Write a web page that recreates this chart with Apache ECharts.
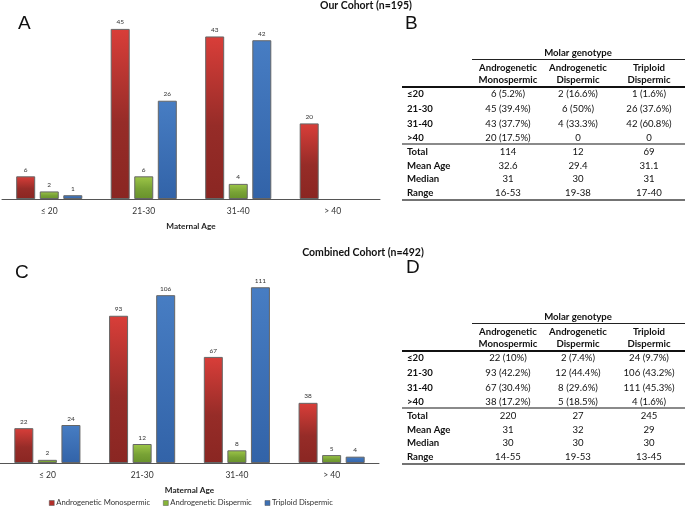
<!DOCTYPE html>
<html>
<head>
<meta charset="utf-8">
<script src="https://cdn.jsdelivr.net/npm/echarts@6/dist/echarts.min.js"></script>
<style>
  html, body { margin: 0; padding: 0; background: #fff; }
  #chart { width: 685px; height: 508px; }
</style>
</head>
<body>
<div id="chart"></div>
<script>
const ageGroups = ['≤ 20', '21-30', '31-40', '> 40'];
const genotypes = ['Androgenetic Monospermic', 'Androgenetic Dispermic', 'Triploid Dispermic'];

// Our Cohort (n=195)
const ourMono = [6, 45, 43, 20];
const ourDi = [2, 6, 4, 0];
const ourTri = [1, 26, 42, 0];

// Combined Cohort (n=492)
const combMono = [22, 93, 67, 38];
const combDi = [2, 12, 8, 5];
const combTri = [24, 106, 111, 4];

// tables B and D
const colHeads = [['Androgenetic', 'Monospermic'], ['Androgenetic', 'Dispermic'], ['Triploid', 'Dispermic']];
const rowLabels = ['≤20', '21-30', '31-40', '>40', 'Total', 'Mean Age', 'Median', 'Range'];
const ourCells = [
  ['6 (5.2%)', '2 (16.6%)', '1 (1.6%)'],
  ['45 (39.4%)', '6 (50%)', '26 (37.6%)'],
  ['43 (37.7%)', '4 (33.3%)', '42 (60.8%)'],
  ['20 (17.5%)', '0', '0'],
  ['114', '12', '69'],
  ['32.6', '29.4', '31.1'],
  ['31', '30', '31'],
  ['16-53', '19-38', '17-40']
];
const combCells = [
  ['22 (10%)', '2 (7.4%)', '24 (9.7%)'],
  ['93 (42.2%)', '12 (44.4%)', '106 (43.2%)'],
  ['67 (30.4%)', '8 (29.6%)', '111 (45.3%)'],
  ['38 (17.2%)', '5 (18.5%)', '4 (1.6%)'],
  ['220', '27', '245'],
  ['31', '32', '29'],
  ['30', '30', '30'],
  ['14-55', '19-53', '13-45']
];

const FONT = 'Lato, "Open Sans", sans-serif';
const LETTER = '"Liberation Sans", Arial, sans-serif';
const TS = 9.6; // table font size

const fills = [
  { type: 'linear', x: 0, y: 0, x2: 0, y2: 1, colorStops: [
    { offset: 0, color: '#d93e39' }, { offset: 0.55, color: '#962c28' }, { offset: 1, color: '#8a2622' }] },
  { type: 'linear', x: 0, y: 0, x2: 0, y2: 1, colorStops: [
    { offset: 0, color: '#9ec748' }, { offset: 0.55, color: '#78a235' }, { offset: 1, color: '#68922b' }] },
  { type: 'linear', x: 0, y: 0, x2: 0, y2: 1, colorStops: [
    { offset: 0, color: '#477dc3' }, { offset: 1, color: '#3263a8' }] }
];
const legendColors = ['#b32e29', '#86b438', '#3d70b3'];

function barSeries(i, values, idx) {
  return {
    name: genotypes[i],
    type: 'bar',
    xAxisIndex: idx,
    yAxisIndex: idx,
    barWidth: 19,
    barGap: '24%',
    data: values.map(v => v === 0 ? '-' : v),
    itemStyle: { color: fills[i], borderColor: '#666', borderWidth: 1 },
    label: { show: true, position: 'top', distance: 3, fontSize: 6.5, color: '#333', fontFamily: FONT }
  };
}

function xAxisFor(idx) {
  return {
    type: 'category', gridIndex: idx, data: ageGroups,
    axisLine: { lineStyle: { color: '#555', width: 1 } },
    axisTick: { show: false },
    axisLabel: { fontSize: 8.5, color: '#333', margin: 8, fontFamily: FONT },
    name: 'Maternal Age', nameLocation: 'middle', nameGap: 23,
    nameTextStyle: { fontSize: 8.2, fontWeight: 'bold', color: '#222', fontFamily: FONT }
  };
}

function txt(x, y, text, size, weight, align, family) {
  return {
    type: 'text', x: x, y: y,
    style: { text: text, fontSize: size, fontWeight: weight || 'normal', fontFamily: family || FONT,
      fill: '#111', align: align || 'center', verticalAlign: 'middle' }
  };
}
function hline(x1, x2, y, w, color) {
  return { type: 'line', shape: { x1: x1, y1: y, x2: x2, y2: y }, style: { stroke: color, lineWidth: w } };
}

// table drawn from the cell arrays
function table(top, cells) {
  const colX = [508, 578, 649];
  const rowY = [41, 56, 71, 85, 99, 113, 126, 140];
  const els = [];
  els.push(txt(578, top, 'Molar genotype', TS, 'bold'));
  els.push(hline(472, 685, top + 6.5, 1, '#222'));
  colHeads.forEach((h, c) => {
    els.push(txt(colX[c], top + 15, h[0], TS, 'bold'));
    els.push(txt(colX[c], top + 27, h[1], TS, 'bold'));
  });
  els.push(hline(402, 685, top + 34, 2, '#111'));
  els.push(hline(402, 685, top + 91, 2, '#8a8a8a'));
  els.push(hline(402, 685, top + 147, 1.5, '#444'));
  rowLabels.forEach((r, i) => {
    els.push(txt(407, top + rowY[i], r, TS, 'bold', 'left'));
    cells[i].forEach((v, c) => els.push(txt(colX[c], top + rowY[i], v, TS, 'normal')));
  });
  return els;
}

const graphics = [].concat(
  [
    txt(366, 6, 'Our Cohort (n=195)', 10.5, 'bold'),
    txt(363, 253, 'Combined Cohort (n=492)', 10.5, 'bold'),
    txt(18, 24, 'A', 19, 'normal', 'left', LETTER),
    txt(405, 24, 'B', 19, 'normal', 'left', LETTER),
    txt(15, 273, 'C', 19, 'normal', 'left', LETTER),
    txt(406, 268, 'D', 19, 'normal', 'left', LETTER)
  ],
  table(53, ourCells),
  table(317, combCells)
);

const chart = echarts.init(document.getElementById('chart'));
chart.setOption({
  animation: false,
  backgroundColor: '#fff',
  grid: [
    { left: 2, top: 10, width: 378, height: 189 },
    { left: 0, top: 273, width: 379, height: 190 }
  ],
  xAxis: [xAxisFor(0), xAxisFor(1)],
  yAxis: [
    { type: 'value', gridIndex: 0, min: 0, max: 50, show: false, splitLine: { show: false } },
    { type: 'value', gridIndex: 1, min: 0, max: 120, show: false, splitLine: { show: false } }
  ],
  legend: {
    left: 49, top: 499, padding: 0,
    itemWidth: 5, itemHeight: 5, itemGap: 13,
    icon: 'rect',
    textStyle: { fontSize: 7.7, color: '#333', fontFamily: FONT, padding: [0, 0, 0, -3] },
    data: genotypes.map((g, i) => ({ name: g, itemStyle: { color: legendColors[i], borderColor: '#555', borderWidth: 0.5 } }))
  },
  series: [
    barSeries(0, ourMono, 0), barSeries(1, ourDi, 0), barSeries(2, ourTri, 0),
    barSeries(0, combMono, 1), barSeries(1, combDi, 1), barSeries(2, combTri, 1)
  ],
  graphic: { elements: graphics }
});
</script>
</body>
</html>
